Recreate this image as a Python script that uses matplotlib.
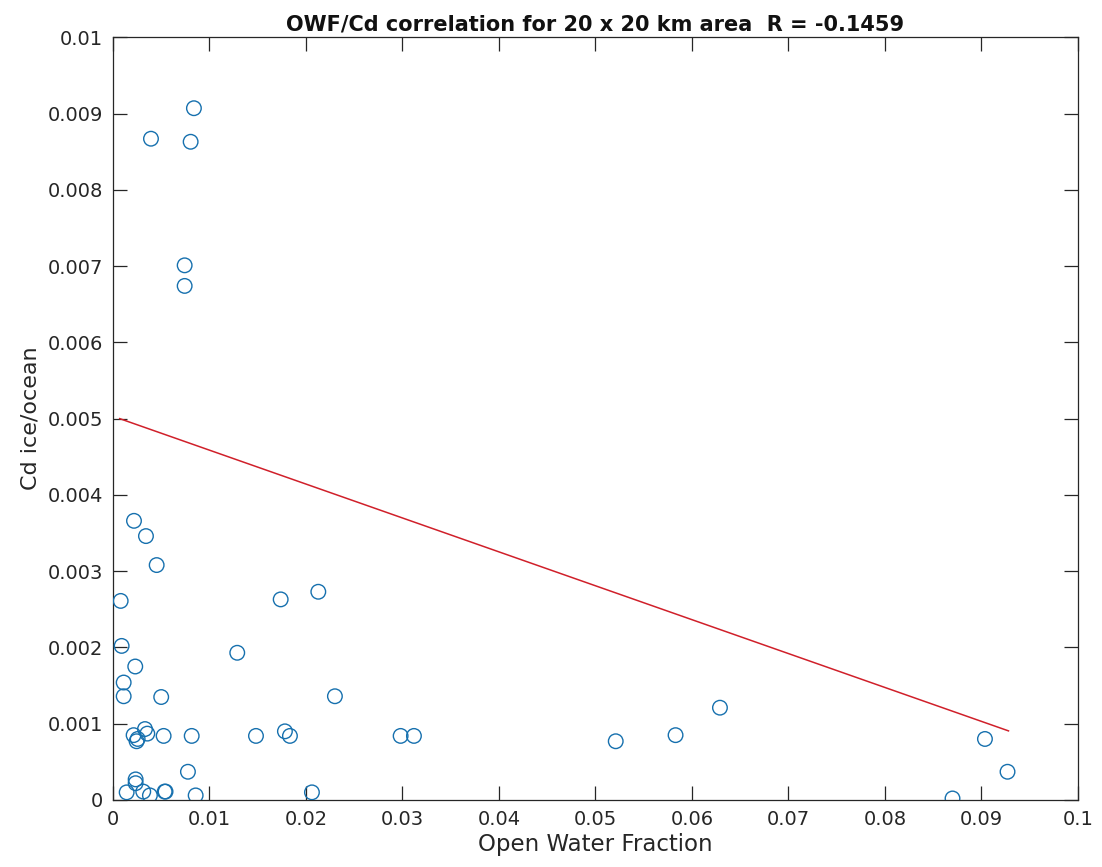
import numpy as np
import matplotlib
matplotlib.use("Agg")
import matplotlib.pyplot as plt

# Open water fraction (x) and ice/ocean drag coefficient (y) samples
owf = [0.00839, 0.00394, 0.00805, 0.00743, 0.00743,
       0.00218, 0.00342, 0.00453, 0.00080, 0.00090, 0.00231, 0.00111, 0.00111,
       0.00500, 0.00214, 0.00245, 0.00256, 0.00332, 0.00356, 0.00525, 0.00816,
       0.00777, 0.00235, 0.00235, 0.00142, 0.00314, 0.00383, 0.00536, 0.00545,
       0.00857,
       0.01288, 0.01738, 0.02128, 0.02300, 0.01482, 0.01782, 0.01834, 0.02981,
       0.03119, 0.02062, 0.05210, 0.05830, 0.06290, 0.08700, 0.09036, 0.09270]
cd = [0.00907, 0.00867, 0.00863, 0.00701, 0.00674,
      0.00366, 0.00346, 0.00308, 0.00261, 0.00202, 0.00175, 0.00154, 0.00136,
      0.00135, 0.00085, 0.00077, 0.00080, 0.00093, 0.00087, 0.00084, 0.00084,
      0.00037, 0.00027, 0.00022, 0.00010, 0.00011, 0.00006, 0.00011, 0.00011,
      0.00006,
      0.00193, 0.00263, 0.00273, 0.00136, 0.00084, 0.00090, 0.00084, 0.00084,
      0.00084, 0.00010, 0.00077, 0.00085, 0.00121, 0.00002, 0.00080, 0.00037]

# Fitted regression line end points
fit_x = [0.0007, 0.0928]
fit_y = [0.00500, 0.000906]

r_value = -0.1459
title_text = f"OWF/Cd correlation for 20 x 20 km area  R = {r_value:.4f}"

x_ticks = [0, 0.01, 0.02, 0.03, 0.04, 0.05, 0.06, 0.07, 0.08, 0.09, 0.1]
x_tick_labels = ["0", "0.01", "0.02", "0.03", "0.04", "0.05", "0.06",
                 "0.07", "0.08", "0.09", "0.1"]
y_ticks = [0, 0.001, 0.002, 0.003, 0.004, 0.005, 0.006, 0.007, 0.008, 0.009, 0.01]
y_tick_labels = ["0", "0.001", "0.002", "0.003", "0.004", "0.005", "0.006",
                 "0.007", "0.008", "0.009", "0.01"]

plt.rcParams["font.family"] = ["DejaVu Sans"]

fig = plt.figure(figsize=(11.02, 8.67), dpi=100)
ax = fig.add_axes([0.1025, 0.0773, 0.8757, 0.8797])

edge = "#262626"
ax.scatter(owf, cd, s=110, facecolors="none", edgecolors="#1670AE",
           linewidths=1.0, zorder=3)
ax.plot(fit_x, fit_y, color="#D0202A", linewidth=1.1, zorder=2)

ax.set_xlim(0, 0.1)
ax.set_ylim(0, 0.01)
ax.set_xticks(x_ticks)
ax.set_xticklabels(x_tick_labels)
ax.set_yticks(y_ticks)
ax.set_yticklabels(y_tick_labels)

ax.tick_params(direction="in", length=10, width=0.9, colors=edge,
               labelsize=14, top=True, right=True, pad=7)
for sp in ax.spines.values():
    sp.set_color(edge)
    sp.set_linewidth(0.9)

ax.set_xlabel("Open Water Fraction", fontsize=16.5, color=edge, labelpad=3)
ax.set_ylabel("Cd ice/ocean", fontsize=16, color=edge, labelpad=5)
ax.set_title(title_text, fontsize=15, fontweight="bold", color="#111111", pad=5)

fig.savefig("out.png", dpi=100)
